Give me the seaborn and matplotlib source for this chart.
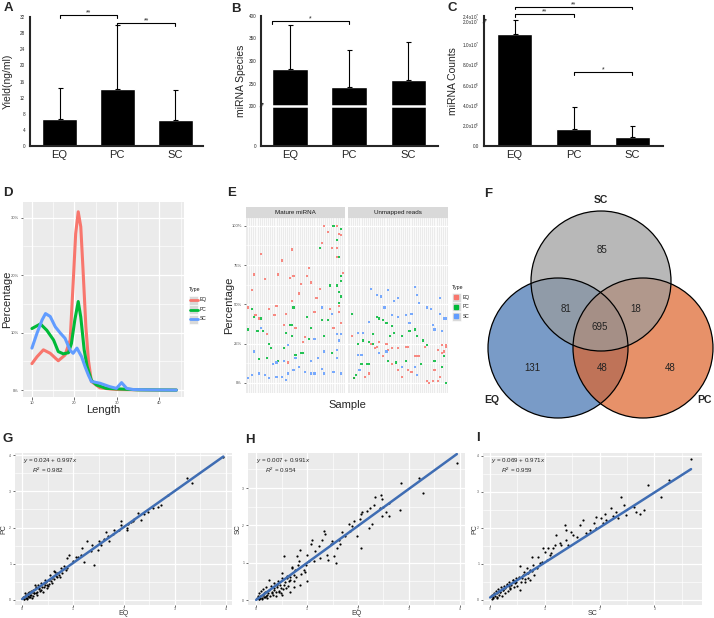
import numpy as np
import pandas as pd
import matplotlib
matplotlib.use("Agg")
import matplotlib.pyplot as plt
import seaborn as sns
from matplotlib.patches import Circle, Rectangle
from matplotlib.lines import Line2D
from matplotlib.ticker import FixedLocator, MultipleLocator

sns.set_style("white")
plt.rcParams["font.family"] = ["Liberation Sans", "DejaVu Sans"]
plt.rcParams["mathtext.fontset"] = "custom"
plt.rcParams["mathtext.rm"] = "Liberation Sans"
plt.rcParams["mathtext.it"] = "Liberation Sans:italic"

# ---------------- data ----------------
groups = ["EQ", "PC", "SC"]
type_colors = {"EQ": "#F8766D", "PC": "#00BA38", "SC": "#619CFF"}

# A / B / C bar panels (mean and upper error)
yield_mean = [6.7, 14.2, 6.5]
yield_err = [7.7, 15.8, 7.5]
species_mean = [283, 242, 258]
species_err = [97, 83, 84]
counts_mean = [1.1e7, 1.63e6, 8.5e5]
counts_err = [9.5e6, 2.17e6, 1.15e6]

# D length distribution (%)
len_eq = [10, 11.2, 12.7, 14.3, 16.2, 17.8, 19.0, 19.7, 20.3, 20.9, 21.5, 22.0, 22.7, 23.3, 24.0, 26.0, 28.3, 30, 35, 40, 44]
pct_eq = [4.6, 5.8, 7.0, 6.4, 5.1, 6.1, 8.7, 18.5, 27.2, 31.0, 28.4, 21.4, 11.0, 5.2, 1.5, 0.4, 0.2, 0.1, 0.05, 0, 0]
len_pc = [10, 12, 13.5, 15.1, 16.2, 17.4, 18.6, 19.3, 20.1, 20.9, 21.5, 22.3, 23.0, 24.0, 25.2, 27.5, 30.7, 35, 44]
pct_pc = [10.7, 11.5, 10.4, 8.7, 6.7, 6.3, 6.5, 8.1, 12.2, 15.4, 12.7, 7.0, 4.1, 1.7, 0.9, 0.3, 0.2, 0.05, 0]
len_sc = [10, 11.2, 12.4, 13.2, 14.3, 15.5, 16.7, 17.8, 19.0, 19.7, 20.6, 21.7, 22.5, 23.3, 24.0, 26.0, 28.3, 29.9, 31.1, 32.3, 33.8, 37, 44]
pct_sc = [7.3, 9.9, 12.2, 13.3, 12.8, 11.0, 9.9, 9.0, 6.9, 6.4, 7.3, 5.8, 4.1, 2.6, 1.5, 1.2, 0.6, 0.3, 1.3, 0.3, 0.1, 0.05, 0]

# E percentage per sample (sample index, %)
mature_EQ = [(40, 100), (47, 100), (42, 96), (48, 95), (49, 94), (39, 89), (44, 86), (47, 86), (7, 82), (23, 85),
             (47, 80), (18, 78), (32, 73), (3, 69), (16, 69), (50, 70), (9, 66), (22, 67), (24, 68), (31, 68),
             (33, 64), (2, 59), (28, 63), (38, 60), (27, 57), (36, 54), (23, 52), (0, 48), (11, 47), (15, 49),
             (43, 47), (48, 49), (4, 43), (6, 41), (14, 43), (20, 44), (35, 45), (48, 45), (19, 37), (25, 35),
             (45, 35), (49, 38), (10, 31), (30, 29), (29, 26), (21, 13)]
mature_PC = [(45, 100), (49, 98), (47, 91), (38, 86), (48, 80), (49, 68), (49, 65), (43, 62), (47, 62), (48, 58),
             (49, 55), (48, 51), (2, 47), (24, 48), (3, 42), (7, 41), (31, 42), (39, 40), (42, 40), (0, 34),
             (8, 33), (22, 37), (23, 37), (33, 35), (5, 33), (20, 32), (23, 30), (32, 28), (40, 30), (11, 25),
             (12, 22), (19, 22), (25, 18), (28, 19), (29, 19), (44, 19), (6, 15), (10, 16), (16, 14)]
mature_SC = [(39, 48), (44, 44), (7, 35), (35, 28), (47, 31), (49, 31), (48, 27), (21, 24), (3, 20), (40, 20),
             (47, 21), (19, 14), (25, 16), (33, 14), (37, 16), (47, 16), (13, 12), (15, 13), (24, 8), (27, 10),
             (30, 7), (35, 6), (39, 9), (45, 7), (2, 5), (6, 6), (9, 5), (15, 4), (18, 4), (21, 6),
             (33, 6), (40, 6), (49, 6), (0, 3), (11, 3), (20, 2)]
unmapped_EQ = [(1, 30), (11, 25), (13, 22), (15, 26), (19, 25), (20, 21), (22, 22), (25, 22), (29, 23), (30, 23),
               (34, 17), (36, 17), (39, 23), (46, 21), (48, 24), (50, 24), (49, 20), (2, 3), (8, 4), (10, 6),
               (14, 23), (17, 17), (22, 12), (25, 8), (30, 8), (32, 7), (35, 17), (40, 1), (41, 0), (43, 1),
               (44, 8), (46, 1), (47, 4), (48, 19), (50, 23), (27, 4)]
unmapped_PC = [(1, 44), (14, 42), (15, 41), (17, 40), (19, 38), (22, 36), (4, 25), (7, 27), (10, 26), (12, 31),
               (21, 30), (23, 32), (27, 30), (31, 33), (34, 34), (35, 30), (38, 27), (40, 24), (2, 3), (3, 5),
               (6, 12), (9, 12), (10, 12), (12, 25), (20, 14), (24, 13), (29, 14), (37, 12), (48, 10), (50, 0),
               (49, 17), (44, 14)]
unmapped_SC = [(4, 32), (7, 32), (10, 39), (11, 60), (14, 56), (16, 55), (18, 48), (20, 59), (22, 43), (23, 52),
               (25, 54), (25, 42), (29, 43), (31, 38), (32, 44), (34, 61), (35, 56), (36, 51), (40, 48), (42, 47),
               (43, 37), (44, 34), (47, 54), (47, 44), (49, 41), (50, 41), (48, 33), (4, 18), (6, 18), (5, 8),
               (15, 19), (19, 20), (27, 10), (34, 10), (35, 5)]

# F Venn counts: SC only, EQ&SC, SC&PC, all, EQ only, EQ&PC, PC only
venn_counts = [85, 81, 18, 695, 131, 48, 48]
venn_sets = ["SC", "EQ", "PC"]

# G / H / I scatter (log expression)
g_x = [3.95, 3.24, 3.34, 2.86, 2.73, 2.66, 2.57, 2.47, 2.40, 2.34, 2.27, 2.20, 2.17, 2.14, 2.07, 2.06, 2.06, 1.94, 1.94, 1.91,
       1.81, 1.78, 1.71, 1.68, 1.64, 1.61, 1.55, 1.51, 1.48, 1.41, 1.38, 1.28, 1.35, 1.22, 1.18, 1.15, 1.10, 1.05, 0.99, 0.92,
       0.89, 0.89, 0.86, 0.82, 0.79, 0.76, 0.69, 0.66, 0.63, 0.59, 0.56, 0.53, 0.49, 0.43, 0.39, 0.33, 0.30, 0.26, 0.23, 0.20,
       0.16, 0.13, 0.10, 0.07, 0.03,
       0.02, 0.04, 0.05, 0.06, 0.08, 0.09, 0.11, 0.12, 0.14, 0.15, 0.17, 0.18, 0.19, 0.21, 0.22, 0.24, 0.25, 0.27, 0.28, 0.30,
       0.32, 0.34, 0.35, 0.37, 0.38, 0.40, 0.42, 0.44, 0.45, 0.47, 0.48, 0.50, 0.52, 0.55, 0.58, 0.62, 0.65, 0.68, 0.72, 0.75]
g_y = [3.96, 3.36, 3.22, 2.90, 2.62, 2.58, 2.55, 2.44, 2.38, 2.22, 2.41, 2.25, 2.19, 2.16, 2.10, 1.99, 1.94, 2.19, 2.06, 1.94,
       1.94, 1.81, 1.62, 1.76, 1.88, 1.67, 1.53, 1.62, 1.39, 0.97, 1.53, 1.62, 1.34, 1.06, 1.44, 1.25, 1.20, 1.20, 1.08, 1.25,
       1.16, 0.88, 0.83, 0.93, 0.74, 0.88, 0.74, 0.65, 0.79, 0.60, 0.51, 0.56, 0.42, 0.46, 0.37, 0.32, 0.23, 0.42, 0.19, 0.23,
       0.14, 0.09, 0.06, 0.05, 0.03,
       0.08, 0.02, 0.10, 0.18, 0.15, 0.03, 0.12, 0.20, 0.22, 0.08, 0.15, 0.25, 0.06, 0.28, 0.12, 0.20, 0.30, 0.35, 0.18, 0.15,
       0.40, 0.30, 0.25, 0.48, 0.28, 0.22, 0.35, 0.40, 0.55, 0.50, 0.32, 0.38, 0.45, 0.68, 0.48, 0.58, 0.78, 0.62, 0.70, 0.62]
h_x = [3.94, 3.19, 3.27, 2.85, 2.82, 2.45, 2.47, 2.50, 2.44, 2.60, 2.61, 2.55, 2.47, 2.34, 2.31, 2.24, 2.27, 2.21, 2.18, 2.08,
       2.05, 2.03, 2.05, 1.98, 1.92, 1.88, 1.85, 1.82, 1.75, 1.69, 1.65, 1.62, 1.56, 1.59, 1.52, 1.49, 1.46, 1.42, 1.39, 1.36,
       1.33, 1.29, 1.26, 1.23, 1.16, 1.13, 1.10, 1.07, 1.03, 1.00, 0.97, 0.93, 0.87, 0.84, 0.80, 0.77, 0.74, 0.71, 0.67, 0.64,
       0.61, 0.54, 0.54, 0.51, 0.48, 0.41, 0.38, 0.35, 0.31, 0.25, 0.22, 0.18, 0.15, 0.12, 0.08, 0.05, 0.51, 0.44, 0.58, 0.67,
       0.74, 0.87, 1.00,
       0.02, 0.03, 0.05, 0.06, 0.08, 0.10, 0.11, 0.13, 0.14, 0.16, 0.17, 0.19, 0.20, 0.22, 0.24, 0.26, 0.28, 0.29, 0.31, 0.33,
       0.35, 0.36, 0.38, 0.40, 0.42, 0.44, 0.46, 0.48, 0.50, 0.53, 0.56, 0.60, 0.63, 0.66, 0.70, 0.74, 0.78, 0.82, 0.88, 0.95]
h_y = [3.67, 3.27, 2.88, 3.13, 2.41, 2.81, 2.70, 2.50, 2.48, 2.61, 2.25, 2.37, 2.25, 2.75, 2.55, 2.48, 2.03, 1.94, 2.39, 2.37,
       2.32, 2.16, 1.40, 1.71, 2.12, 1.98, 1.85, 2.03, 1.71, 1.83, 1.49, 1.62, 0.99, 1.40, 1.17, 1.58, 1.49, 1.08, 1.22, 1.76,
       1.85, 1.62, 1.13, 1.44, 1.31, 1.04, 1.62, 1.49, 1.04, 1.22, 0.95, 0.81, 1.35, 1.04, 1.17, 0.81, 0.68, 0.90, 0.63, 0.50,
       0.59, 1.17, 0.41, 0.72, 0.32, 0.41, 0.23, 0.32, 0.18, 0.54, 0.14, 0.09, 0.18, 0.06, 0.05, 0.03, 0.14, 0.21, 0.32, 0.23,
       0.36, 0.41, 0.50,
       0.05, 0.12, 0.02, 0.20, 0.10, 0.25, 0.04, 0.15, 0.30, 0.08, 0.22, 0.12, 0.35, 0.05, 0.18, 0.28, 0.10, 0.38, 0.22, 0.15,
       0.45, 0.28, 0.12, 0.35, 0.50, 0.25, 0.40, 0.18, 0.58, 0.30, 0.48, 0.65, 0.38, 0.55, 0.85, 0.50, 0.62, 0.95, 0.70, 0.75]
i_x = [3.67, 3.26, 3.12, 2.88, 2.81, 2.73, 2.67, 2.62, 2.48, 2.45, 2.39, 2.33, 2.30, 2.24, 2.21, 2.12, 2.09, 2.06, 2.03, 1.94,
       1.93, 1.90, 1.82, 1.76, 1.70, 1.64, 1.58, 1.52, 1.48, 1.42, 1.39, 1.39, 1.36, 1.30, 1.27, 1.21, 1.18, 1.15, 1.12, 1.09,
       1.06, 1.03, 1.00, 0.97, 0.94, 0.91, 0.88, 0.85, 0.79, 0.76, 0.73, 0.70, 0.67, 0.61, 0.55, 0.58, 0.48, 0.42, 0.36, 0.30,
       0.24, 0.18, 0.12, 0.06, 0.55, 0.64, 0.73,
       0.02, 0.03, 0.04, 0.06, 0.07, 0.09, 0.10, 0.12, 0.13, 0.15, 0.16, 0.18, 0.20, 0.21, 0.23, 0.25, 0.27, 0.28, 0.30, 0.32,
       0.34, 0.35, 0.37, 0.39, 0.41, 0.43, 0.45, 0.47, 0.50, 0.52, 0.56, 0.60, 0.63, 0.67, 0.70, 0.76, 0.80]
i_y = [3.91, 3.33, 2.85, 3.19, 2.50, 2.38, 2.45, 2.59, 2.36, 2.64, 2.87, 2.27, 2.45, 2.33, 2.56, 2.22, 2.38, 2.13, 2.27, 1.99,
       2.31, 2.13, 1.94, 1.85, 2.22, 2.08, 1.76, 1.81, 1.90, 1.53, 1.94, 1.67, 2.08, 1.53, 1.57, 1.81, 1.53, 1.44, 1.30, 1.25,
       1.44, 1.11, 1.34, 1.44, 1.06, 1.02, 1.20, 0.88, 0.97, 1.20, 0.83, 0.74, 0.88, 0.79, 0.93, 0.60, 0.51, 0.56, 0.32, 0.42,
       0.28, 0.23, 0.09, 0.05, 0.28, 0.51, 0.56,
       0.10, 0.04, 0.15, 0.08, 0.20, 0.12, 0.25, 0.05, 0.18, 0.30, 0.14, 0.22, 0.35, 0.10, 0.28, 0.40, 0.20, 0.32, 0.45, 0.25,
       0.38, 0.50, 0.30, 0.42, 0.55, 0.35, 0.48, 0.60, 0.40, 0.65, 0.50, 0.70, 0.58, 0.75, 0.62, 0.80, 0.68]
fit_g = (0.024, 0.997, 0.982)
fit_h = (0.007, 0.991, 0.954)
fit_i = (0.069, 0.971, 0.959)

# ---------------- layout helpers ----------------
W, H = 714, 618
fig = plt.figure(figsize=(W / 100, H / 100), dpi=100)


def rect(x0, y0, x1, y1):
    return [x0 / W, 1 - y1 / H, (x1 - x0) / W, (y1 - y0) / H]


def ftext(x, y, s, **kw):
    fig.text(x / W, 1 - y / H, s, **kw)


def broken_scale(xp, yp):
    def fwd(v):
        return np.interp(v, xp, yp)

    def inv(v):
        return np.interp(v, yp, xp)
    return fwd, inv


def bracket(ax, x0, x1, yfrac, label):
    tr = ax.get_xaxis_transform()
    ax.plot([x0, x0, x1, x1], [yfrac - 0.02, yfrac, yfrac, yfrac - 0.02], color="black",
            lw=0.8, transform=tr, clip_on=False)
    ax.text((x0 + x1) / 2, yfrac - 0.012, label, ha="center", va="bottom", fontsize=5,
            transform=tr, clip_on=False)


def bar_panel(box, vals, errs, ylabel, label_x):
    ax = fig.add_axes(rect(*box))
    df = pd.DataFrame({"Group": groups, "Value": vals})
    sns.barplot(data=df, x="Group", y="Value", color="black", saturation=1, width=0.6,
                errorbar=None, ax=ax)
    ax.errorbar(np.arange(3), vals, yerr=[np.zeros(3), errs], fmt="none", ecolor="black",
                elinewidth=0.8, capsize=1.8, capthick=0.8, zorder=3)
    for s in ["top", "right"]:
        ax.spines[s].set_visible(False)
    for s in ["left", "bottom"]:
        ax.spines[s].set_linewidth(1.5)
    ax.set_xticks([0, 1, 2])
    ax.set_xticks([-0.5, 0.5, 1.5, 2.5], minor=True)
    ax.tick_params(axis="x", which="major", length=0, labelsize=8, pad=3)
    ax.tick_params(axis="x", which="minor", length=2.5, width=0.8)
    ax.tick_params(axis="y", which="major", length=2.5, width=0.8, labelsize=3.3, pad=1)
    ax.tick_params(axis="y", which="minor", length=1.5, width=0.7)
    ax.set_xlabel("")
    ax.set_ylabel(ylabel, fontsize=7.5)
    ax.yaxis.set_label_coords(label_x, 0.5)
    return ax


def gg_style(ax, tick_size=3.0):
    ax.set_facecolor("#EBEBEB")
    for s in ax.spines.values():
        s.set_visible(False)
    ax.grid(which="major", color="white", linewidth=0.9)
    ax.grid(which="minor", color="white", linewidth=0.45)
    ax.set_axisbelow(True)
    ax.tick_params(which="major", length=1.8, width=0.5, color="#333333", labelsize=tick_size,
                   labelcolor="#4D4D4D", pad=1, left=True, bottom=True)
    ax.tick_params(which="minor", length=0)


def gg_legend(x, y, point=False):
    ftext(x, y, "Type", fontsize=3.8, color="#1A1A1A", va="center", ha="left")
    for i, t in enumerate(groups):
        yy = y + 10 + i * 9.5
        fig.add_artist(Rectangle((x / W, 1 - (yy + 4.5) / H), 9 / W, 9 / H, transform=fig.transFigure,
                                 facecolor="#D9D9D9", edgecolor="white", lw=0.4))
        if point:
            fig.add_artist(Line2D([(x + 4.5) / W], [1 - yy / H], transform=fig.transFigure, marker="s",
                                  markersize=2.2, color=type_colors[t], linestyle="none"))
        else:
            fig.add_artist(Line2D([(x + 0.5) / W, (x + 8.5) / W], [1 - yy / H, 1 - yy / H],
                                  transform=fig.transFigure, color=type_colors[t], lw=2))
        ftext(x + 11, yy, t, fontsize=3.5, color="#1A1A1A", va="center", ha="left")


# ---------------- A ----------------
ax = bar_panel((30, 17, 203, 146), yield_mean, yield_err, "Yield(ng/ml)", -0.10)
ax.set_ylim(0, 32)
ax.set_xlim(-0.51, 2.48)
ax.yaxis.set_major_locator(MultipleLocator(4))
ax.yaxis.set_minor_locator(MultipleLocator(2))
bracket(ax, 0, 1, 1.016, "**")
bracket(ax, 1, 2, 0.953, "**")

# ---------------- B ----------------
ax = bar_panel((261, 16, 438, 146), species_mean, species_err, "miRNA Species", -0.085)
ax.set_yscale("function", functions=broken_scale([-1000, 0, 200, 400, 5000], [-200, 0, 40, 130, 2200]))
ax.set_ylim(0, 400)
ax.set_xlim(-0.49, 2.5)
ax.yaxis.set_major_locator(FixedLocator([0, 200, 250, 300, 350, 400]))
ax.yaxis.set_minor_locator(FixedLocator([50, 100, 150, 225, 275, 325, 375]))
ax.set_yticklabels(["0", "200", "250", "300", "350", "400"])
ax.axhline(200, xmin=0.02, xmax=1, color="white", lw=1.8, zorder=4)
ax.text(0, 200, "//", transform=ax.get_yaxis_transform(), ha="center", va="center", fontsize=5,
        fontweight="bold", rotation=-20, clip_on=False, zorder=5)
bracket(ax, -0.3, 1, 0.96, "*")

# ---------------- C ----------------
ax = bar_panel((484, 16, 663, 146), counts_mean, counts_err, "miRNA Counts", -0.145)
ax.set_yscale("function", functions=broken_scale([-1e8, 0, 1.2e7, 2.0e7, 2.4e7, 1e9],
                                                 [-1017, 0, 122, 125, 130, 1350]))
ax.set_ylim(0, 2.4e7)
ax.set_xlim(-0.52, 2.52)
c_ticks = [0, 2e6, 4e6, 6e6, 8e6, 1e7, 2.0e7, 2.4e7]
ax.yaxis.set_major_locator(FixedLocator(c_ticks))
ax.yaxis.set_minor_locator(FixedLocator([1e6, 3e6, 5e6, 7e6, 9e6, 1.1e7, 2.2e7]))
ax.set_yticklabels(["0.0", r"2.0x10$^{6}$", r"4.0x10$^{6}$", r"6.0x10$^{6}$", r"8.0x10$^{6}$",
                    r"1.0x10$^{7}$", r"2.0x10$^{7}$", r"2.4x10$^{7}$"])
ax.text(0, 1.6e7, "//", transform=ax.get_yaxis_transform(), ha="center", va="center", fontsize=5,
        fontweight="bold", rotation=-20, clip_on=False, zorder=5)
bracket(ax, 0, 1, 1.015, "**")
bracket(ax, 0, 2, 1.072, "**")
bracket(ax, 1, 2, 0.57, "*")

# ---------------- D ----------------
ax = fig.add_axes(rect(23, 202, 184, 397))
gg_style(ax)
d_df = pd.concat([
    pd.DataFrame({"Length": len_eq, "Percentage": pct_eq, "Type": "EQ"}),
    pd.DataFrame({"Length": len_pc, "Percentage": pct_pc, "Type": "PC"}),
    pd.DataFrame({"Length": len_sc, "Percentage": pct_sc, "Type": "SC"}),
])
sns.lineplot(data=d_df, x="Length", y="Percentage", hue="Type", palette=type_colors,
             linewidth=2.2, legend=False, ax=ax)
ax.set_xlim(7.9, 45.8)
ax.set_ylim(-1.2, 32.7)
ax.set_xticks([10, 20, 30, 40])
ax.xaxis.set_minor_locator(MultipleLocator(5))
ax.set_yticks([0, 10, 20, 30])
ax.set_yticklabels(["0%", "10%", "20%", "30%"])
ax.yaxis.set_minor_locator(MultipleLocator(5))
ax.set_xlabel("Length", fontsize=8)
ax.set_ylabel("Percentage", fontsize=8)
ax.yaxis.set_label_coords(-0.07, 0.5)
ax.xaxis.set_label_coords(0.5, -0.04)
gg_legend(189, 290)

# ---------------- E ----------------
facets = [("Mature miRNA", (246, 218, 345, 393), [mature_EQ, mature_PC, mature_SC]),
          ("Unmapped reads", (348, 218, 448, 393), [unmapped_EQ, unmapped_PC, unmapped_SC])]
for k, (title, box, sets) in enumerate(facets):
    ax = fig.add_axes(rect(*box))
    gg_style(ax)
    rows = []
    for t, pts in zip(groups, sets):
        for idx, val in pts:
            rows.append((idx, val, t))
    e_df = pd.DataFrame(rows, columns=["Sample", "Percentage", "Type"])
    sns.scatterplot(data=e_df, x="Sample", y="Percentage", hue="Type", palette=type_colors,
                    hue_order=groups, marker="s", s=2.5, linewidth=0, alpha=0.85, legend=False, ax=ax)
    ax.set_xlim(-1, 51)
    ax.set_ylim(-6.4, 105)
    ax.set_xticks(np.arange(0, 51))
    ax.grid(axis="x", which="major", color="white", linewidth=0.55)
    ax.tick_params(axis="x", length=0, labelbottom=False)
    ax.set_yticks([0, 25, 50, 75, 100])
    ax.yaxis.set_minor_locator(MultipleLocator(12.5))
    ax.set_xlabel("")
    if k == 0:
        ax.set_yticklabels(["0%", "25%", "50%", "75%", "100%"])
        ax.set_ylabel("Percentage", fontsize=8)
        ax.yaxis.set_label_coords(-0.12, 0.5)
    else:
        ax.tick_params(axis="y", length=0, labelleft=False)
        ax.set_ylabel("")
    sx = fig.add_axes(rect(box[0], 207, box[2], 218))
    sx.set_facecolor("#D9D9D9")
    sx.set_xticks([])
    sx.set_yticks([])
    for s in sx.spines.values():
        s.set_visible(False)
    sx.text(0.5, 0.5, title, ha="center", va="center", fontsize=4.5, color="#1A1A1A",
            transform=sx.transAxes)
ftext(347, 405, "Sample", fontsize=8, ha="center", va="center")
gg_legend(452, 287, point=True)

# ---------------- F ----------------
ax = fig.add_axes(rect(470, 190, 714, 425))
ax.set_xlim(470, 714)
ax.set_ylim(425, 190)
ax.axis("off")
circles = {"EQ": ((558, 348), "#4171B0"), "PC": ((643, 348), "#DE6229"), "SC": ((601, 281), "#9B9B9B")}
for name in ["EQ", "PC", "SC"]:
    (cx, cy), col = circles[name]
    ax.add_patch(Circle((cx, cy), 70, facecolor=col, alpha=0.7, edgecolor="none"))
for name in ["EQ", "PC", "SC"]:
    (cx, cy), col = circles[name]
    ax.add_patch(Circle((cx, cy), 70, fill=False, edgecolor="black", lw=0.9))
count_pos = [(602, 250), (566, 309), (636, 309), (600, 327), (532, 368), (602, 368), (670, 368)]
for (x, y), n in zip(count_pos, venn_counts):
    ax.text(x, y, str(n), ha="center", va="center", fontsize=7, color="#222222")
for (x, y), name in zip([(601, 200), (492, 400), (704, 400)], venn_sets):
    ax.text(x, y, name, ha="center", va="center", fontsize=7.5, fontweight="bold", clip_on=False)

# ---------------- G / H / I ----------------
scatters = [((15, 453, 232, 605), g_x, g_y, fit_g, "EQ", "PC", (-0.14, 4.12), (-0.14, 4.06), -0.036),
            ((248, 453, 465, 605), h_x, h_y, fit_h, "EQ", "SC", (-0.16, 4.1), (-0.13, 3.94), -0.027),
            ((483, 453, 702, 605), i_x, i_y, fit_i, "SC", "PC", (-0.13, 3.87), (-0.14, 4.08), -0.02)]
for box, xs, ys, fit, xl, yl, xlim, ylim, ylab_x in scatters:
    ax = fig.add_axes(rect(*box))
    gg_style(ax, 2.4)
    ax.tick_params(axis="x", pad=0.3, length=1.5)
    sns.scatterplot(x=xs, y=ys, color="black", s=2.5, linewidth=0, ax=ax)
    line_x = np.array([0, max(xs)])
    sns.lineplot(x=line_x, y=fit[0] + fit[1] * line_x, color="#3F6DB3", linewidth=1.8, ax=ax)
    ax.set_xticks([0, 1, 2, 3, 4])
    ax.set_yticks([0, 1, 2, 3, 4])
    ax.xaxis.set_minor_locator(MultipleLocator(0.5))
    ax.yaxis.set_minor_locator(MultipleLocator(0.5))
    ax.set_xlim(*xlim)
    ax.set_ylim(*ylim)
    ax.set_xlabel(xl, fontsize=5, color="#333333", va="center")
    ax.set_ylabel(yl, fontsize=5, color="#333333")
    ax.xaxis.set_label_coords(0.5, -0.058)
    ax.yaxis.set_label_coords(ylab_x, 0.5)
    ax.text(0.035, 0.95, r"$y$ = %.3f + %.3f$x$" % (fit[0], fit[1]), transform=ax.transAxes,
            fontsize=4.5, va="center", ha="left")
    ax.text(0.08, 0.885, r"$R^2$ = %.3f" % fit[2], transform=ax.transAxes,
            fontsize=4.5, va="center", ha="left")

# panel letters
for letter, (x, y) in zip("ABCDEFGHI", [(8, 8), (236, 9), (452, 8), (8, 193), (232, 193), (488, 194),
                                        (8, 439), (250, 440), (478, 438)]):
    ftext(x, y, letter, fontsize=9.5, fontweight="bold", ha="center", va="center")

fig.savefig("out.png", dpi=100)
